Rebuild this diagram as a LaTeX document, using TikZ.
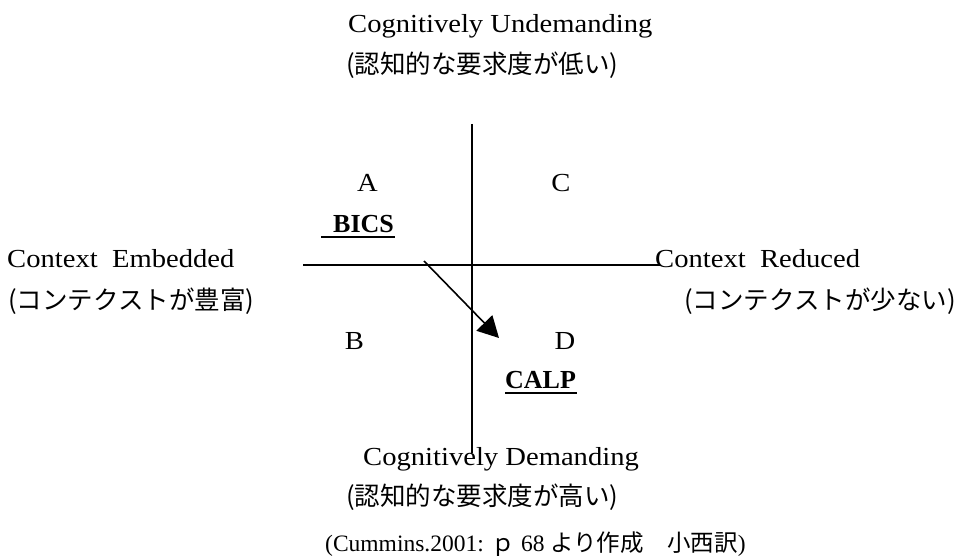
\documentclass[tikz,border=0pt]{standalone}
\usepackage{fontspec}
\setmainfont{Liberation Serif}[FakeStretch=1.1]
\newfontfamily\timesfont{Liberation Serif}
\newfontfamily\cjk{Noto Sans CJK JP}
\usetikzlibrary{arrows.meta,calc}
\begin{document}
\begin{tikzpicture}[x=1pt,y=-1pt,
  lbl/.style={inner sep=0pt, anchor=base west, font=\fontsize{26}{30}\selectfont},
  ltr/.style={inner sep=0pt, anchor=base, font=\fontsize{26}{30}\selectfont},
  key/.style={inner sep=0pt, anchor=base west, font=\timesfont\fontsize{26}{30}\selectfont\bfseries},
  jp/.style={inner sep=0pt, anchor=base west, font=\cjk\fontsize{25.5}{30}\selectfont},
  cite/.style={inner sep=0pt, anchor=base west, font=\fontsize{23.5}{28}\selectfont},
  axisline/.style={line width=1.5pt, black},
  uline/.style={line width=2.5pt, black},
  arrowline/.style={line width=1.6pt, black, -{Triangle[length=21pt,width=22pt]}}]
\useasboundingbox (0,0) rectangle (959,556);
% axes
\coordinate (vtop) at (472,124);
\coordinate (vbot) at (472,453);
\coordinate (hleft) at (303,265);
\coordinate (hright) at (660,265);
\draw[axisline] (vtop) -- (vbot);
\draw[axisline] (hleft) -- (hright);
% arrow
\coordinate (astart) at (424,261);
\coordinate (aend) at (499,338);
\draw[arrowline] (astart) -- (aend);
% top labels
\node[lbl] (cu) at (348,33) {Cognitively Undemanding};
\node[jp] (cuj) at (346,74) {(認知的な要求度が低い)};
% quadrant letters
\node[ltr] (qa) at (367.5,192) {A};
\node[ltr] (qc) at (561,192) {C};
\node[ltr] (qb) at (354.5,349) {B};
\node[ltr] (qd) at (565,349) {D};
% BICS / CALP
\node[key] (bics) at (333,233) {BICS};
\draw[uline] ($(bics.base west)+(-12,4)$) -- ($(bics.base east)+(1,4)$);
\node[key] (calp) at (505,388) {CALP};
\draw[uline] ($(calp.base west)+(0,5)$) -- ($(calp.base east)+(1,5)$);
% side labels
\node[lbl] (ce) at (7,268) {Context~~Embedded};
\node[jp] (cej) at (8,309) {(コンテクストが豊富)};
\node[lbl] (cr) at (655,268) {Context~~Reduced};
\node[jp, anchor=base east] (crj) at (956,309) {(コンテクストが少ない)};
% bottom labels
\node[lbl] (cd) at (363,465) {Cognitively Demanding};
\node[jp] (cdj) at (346,505) {(認知的な要求度が高い)};
% citation
\node[cite] (src) at (325,551) {\timesfont (Cummins.2001: {\cjk ｐ} 68 {\cjk より作成　小西訳})};
\end{tikzpicture}
\end{document}
